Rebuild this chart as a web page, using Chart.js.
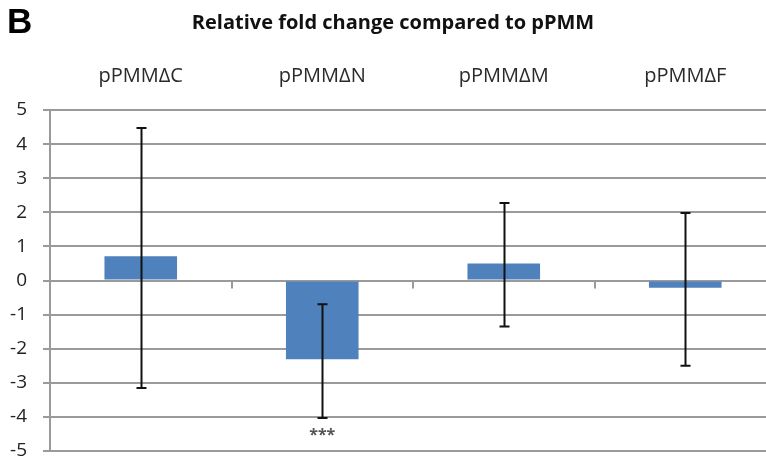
<!DOCTYPE html>
<html>
<head>
<meta charset="utf-8">
<script src="https://cdn.jsdelivr.net/npm/chart.js@4/dist/chart.umd.min.js"></script>
<style>
  html, body { margin: 0; padding: 0; background: #fff; overflow: hidden; }
  #wrap { width: 776px; height: 458px; }
</style>
</head>
<body>
<div id="wrap"><canvas id="myChart" width="776" height="458"></canvas></div>
<script>
const categories = ['pPMMΔC', 'pPMMΔN', 'pPMMΔM', 'pPMMΔF']
const foldChange = [0.71, -2.31, 0.5, -0.21]
const errorHigh = [4.47, -0.7, 2.27, 1.98]
const errorLow = [-3.15, -4.03, -1.35, -2.5]
const significance = ['', '***', '', '']
const yTicks = [5, 4, 3, 2, 1, 0, -1, -2, -3, -4, -5]

const gridColor = '#9a9a9a'
const barColor = '#4f81bd'

// Decorations: panel letter, title, error bars, stars, zero-line ticks
const decorPlugin = {
  id: 'decor',
  afterDatasetsDraw (chart) {
    const ctx = chart.ctx
    const x = chart.scales.x
    const y = chart.scales.y
    ctx.save()

    // small ticks hanging off the zero line between categories
    ctx.strokeStyle = gridColor
    ctx.lineWidth = 2
    const zero = y.getPixelForValue(0)
    for (let i = 0; i < categories.length - 1; i++) {
      const bx = Math.round((x.getPixelForValue(i) + x.getPixelForValue(i + 1)) / 2)
      ctx.beginPath()
      ctx.moveTo(bx, zero)
      ctx.lineTo(bx, zero + 8)
      ctx.stroke()
    }

    // error bars
    ctx.strokeStyle = '#111'
    ctx.lineWidth = 2
    categories.forEach((c, i) => {
      const cx = Math.round(x.getPixelForValue(i)) + 0.5
      const top = y.getPixelForValue(errorHigh[i])
      const bot = y.getPixelForValue(errorLow[i])
      ctx.beginPath()
      ctx.moveTo(cx, top)
      ctx.lineTo(cx, bot)
      ctx.moveTo(cx - 5, top)
      ctx.lineTo(cx + 5, top)
      ctx.moveTo(cx - 5, bot)
      ctx.lineTo(cx + 5, bot)
      ctx.stroke()
    })

    // significance stars
    ctx.fillStyle = '#555'
    ctx.font = 'bold 16px "Open Sans"'
    ctx.textAlign = 'center'
    ctx.textBaseline = 'middle'
    significance.forEach((s, i) => {
      if (!s) return
      ctx.fillText(s, x.getPixelForValue(i), y.getPixelForValue(errorLow[i]) + 18)
    })

    // panel letter and title
    ctx.fillStyle = '#000'
    ctx.textBaseline = 'alphabetic'
    ctx.textAlign = 'left'
    ctx.font = 'bold 35px "Liberation Sans", Arial'
    ctx.fillText('B', 7, 33)
    ctx.fillStyle = '#111'
    ctx.textAlign = 'center'
    ctx.font = 'bold 20px "Open Sans"'
    ctx.fillText('Relative fold change compared to pPMM', 393, 29)
    ctx.restore()
  }
}

const configuration = {
  type: 'bar',
  data: {
    labels: categories,
    datasets: [{
      label: 'Relative fold change',
      data: foldChange,
      backgroundColor: barColor,
      borderWidth: 0,
      barPercentage: 0.4,
      categoryPercentage: 1
    }]
  },
  options: {
    responsive: false,
    animation: false,
    layout: {
      padding: { top: 50, left: 0, right: 0, bottom: 7 }
    },
    scales: {
      x: {
        position: 'top',
        offset: true,
        grid: { display: false },
        border: { display: false },
        ticks: {
          padding: 14,
          color: '#2a2a2a',
          font: { family: 'Open Sans', size: 20 }
        },
        afterFit (scale) {
          scale.height = 60
          scale.paddingLeft = 0
          scale.paddingRight = 0
        }
      },
      y: {
        min: -5,
        max: 5,
        afterBuildTicks (scale) {
          scale.ticks = yTicks.map(v => ({ value: v }))
        },
        grid: {
          color: gridColor,
          lineWidth: 2,
          tickLength: 7
        },
        border: { color: gridColor, width: 2 },
        ticks: {
          padding: 16,
          color: '#222',
          font: { family: 'Open Sans', size: 19 }
        },
        afterFit (scale) {
          scale.width = 50
          scale.paddingTop = 0
          scale.paddingBottom = 0
        }
      }
    },
    plugins: {
      legend: { display: false },
      tooltip: { enabled: false }
    }
  },
  plugins: [decorPlugin]
}

const ctx = document.getElementById('myChart').getContext('2d')
const myChart = new Chart(ctx, configuration)
</script>
</body>
</html>
